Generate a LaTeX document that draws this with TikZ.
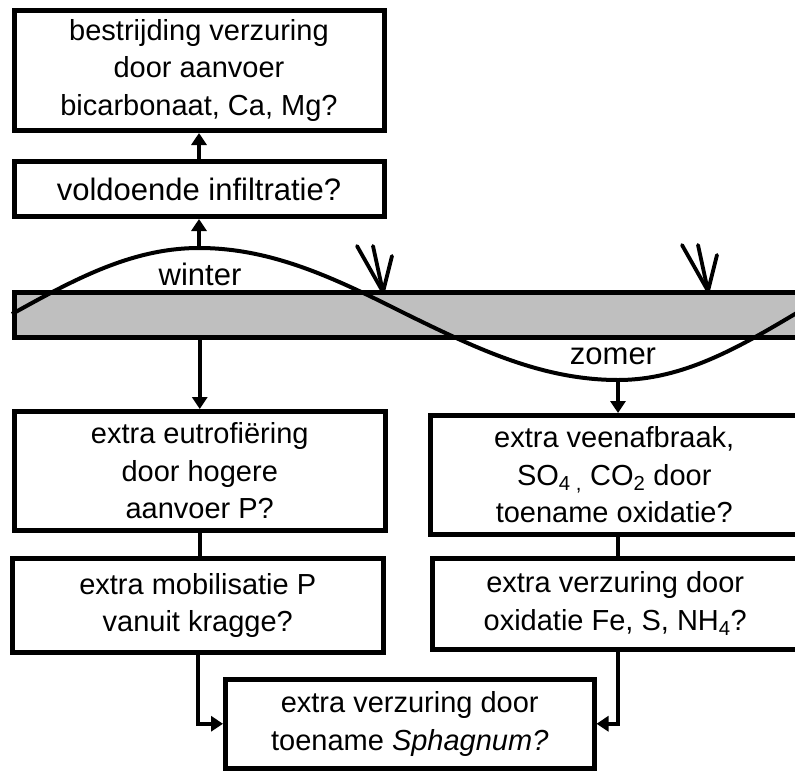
\documentclass[tikz,border=0pt]{standalone}
\usepackage{fontspec}
\setmainfont{Liberation Sans}
\usetikzlibrary{arrows.meta}

\begin{document}
\begin{tikzpicture}[x=1pt,y=-1pt,
    box/.style={draw, line width=5pt, align=center, inner sep=0pt,
        font=\fontsize{29}{37.5}\selectfont},
    arr/.style={line width=4.5pt, -{Triangle[width=15pt,length=12pt]}},
    link/.style={line width=4.5pt},
    wave/.style={line width=4pt},
    rain/.style={line width=3.8pt, line cap=round},
    season/.style={font=\fontsize{31}{36}\selectfont}]
            \clip (0,0) rectangle (795,771);

            \node[box, fill=black!25, minimum width=791pt, minimum height=45pt] (band) at (409.5,315) {};

            \draw[wave] (12,314) sin (199,248) cos (406,314) sin (618,380) cos (800,311);
                \coordinate (peak) at (199,248);
                \coordinate (trough) at (618,380);
                \node[season] (winter) at (200,274) {winter};
                \node[season] (zomer) at (613,356) {zomer};

            \foreach \x/\y in {383/292, 708/291}{
                \draw[rain] (\x,\y) -- ++(-26,-46);
                \draw[rain] (\x,\y) -- ++(-10,-46);
                \draw[rain] (\x,\y) -- ++(9,-36);
            }

            \node[box, minimum width=370pt, minimum height=120pt] (bestr) at (199,70.5)
                {bestrijding verzuring\\door aanvoer\\bicarbonaat, Ca, Mg?};
            \node[box, minimum width=370pt, minimum height=55pt, font=\fontsize{31}{36}\selectfont] (infil) at (199,189)
                {voldoende infiltratie?};

            \node[box, minimum width=371.5pt, minimum height=119pt] (eutro) at (199.75,471)
                {extra eutrofiëring\\door hogere\\aanvoer P?};
            \node[box, minimum width=371.5pt, minimum height=94.5pt] (mobil) at (197.75,605.25)
                {extra mobilisatie P\\vanuit kragge?};

            \node[box, minimum width=367.5pt, minimum height=118.5pt] (veen) at (614.25,474.75)
                {extra veenafbraak,\\SO\textsubscript{4 ,} CO\textsubscript{2} door\\toename oxidatie?};
            \node[box, minimum width=365.5pt, minimum height=91pt] (oxid) at (615.25,603.5)
                {extra verzuring door\\oxidatie Fe, S, NH\textsubscript{4}?};

            \node[box, minimum width=368.5pt, minimum height=88.5pt] (sphag) at (409.75,723.75)
                {extra verzuring door\\toename \textit{Sphagnum?}};

            \draw[arr] (peak) -- (infil);
            \draw[arr] (infil) -- (bestr);
            \draw[arr] (band.south -| eutro.north) -- (eutro.north);
            \draw[arr] (trough) -- (trough |- veen.north);
            \draw[link] (eutro.south) -- (mobil.north -| eutro.south);
            \draw[link] (trough |- veen.south) -- (trough |- oxid.north);
            \draw[arr] (mobil.south) |- (sphag.west);
            \draw[arr] (trough |- oxid.south) |- (sphag.east);
      \end{tikzpicture}
\end{document}
